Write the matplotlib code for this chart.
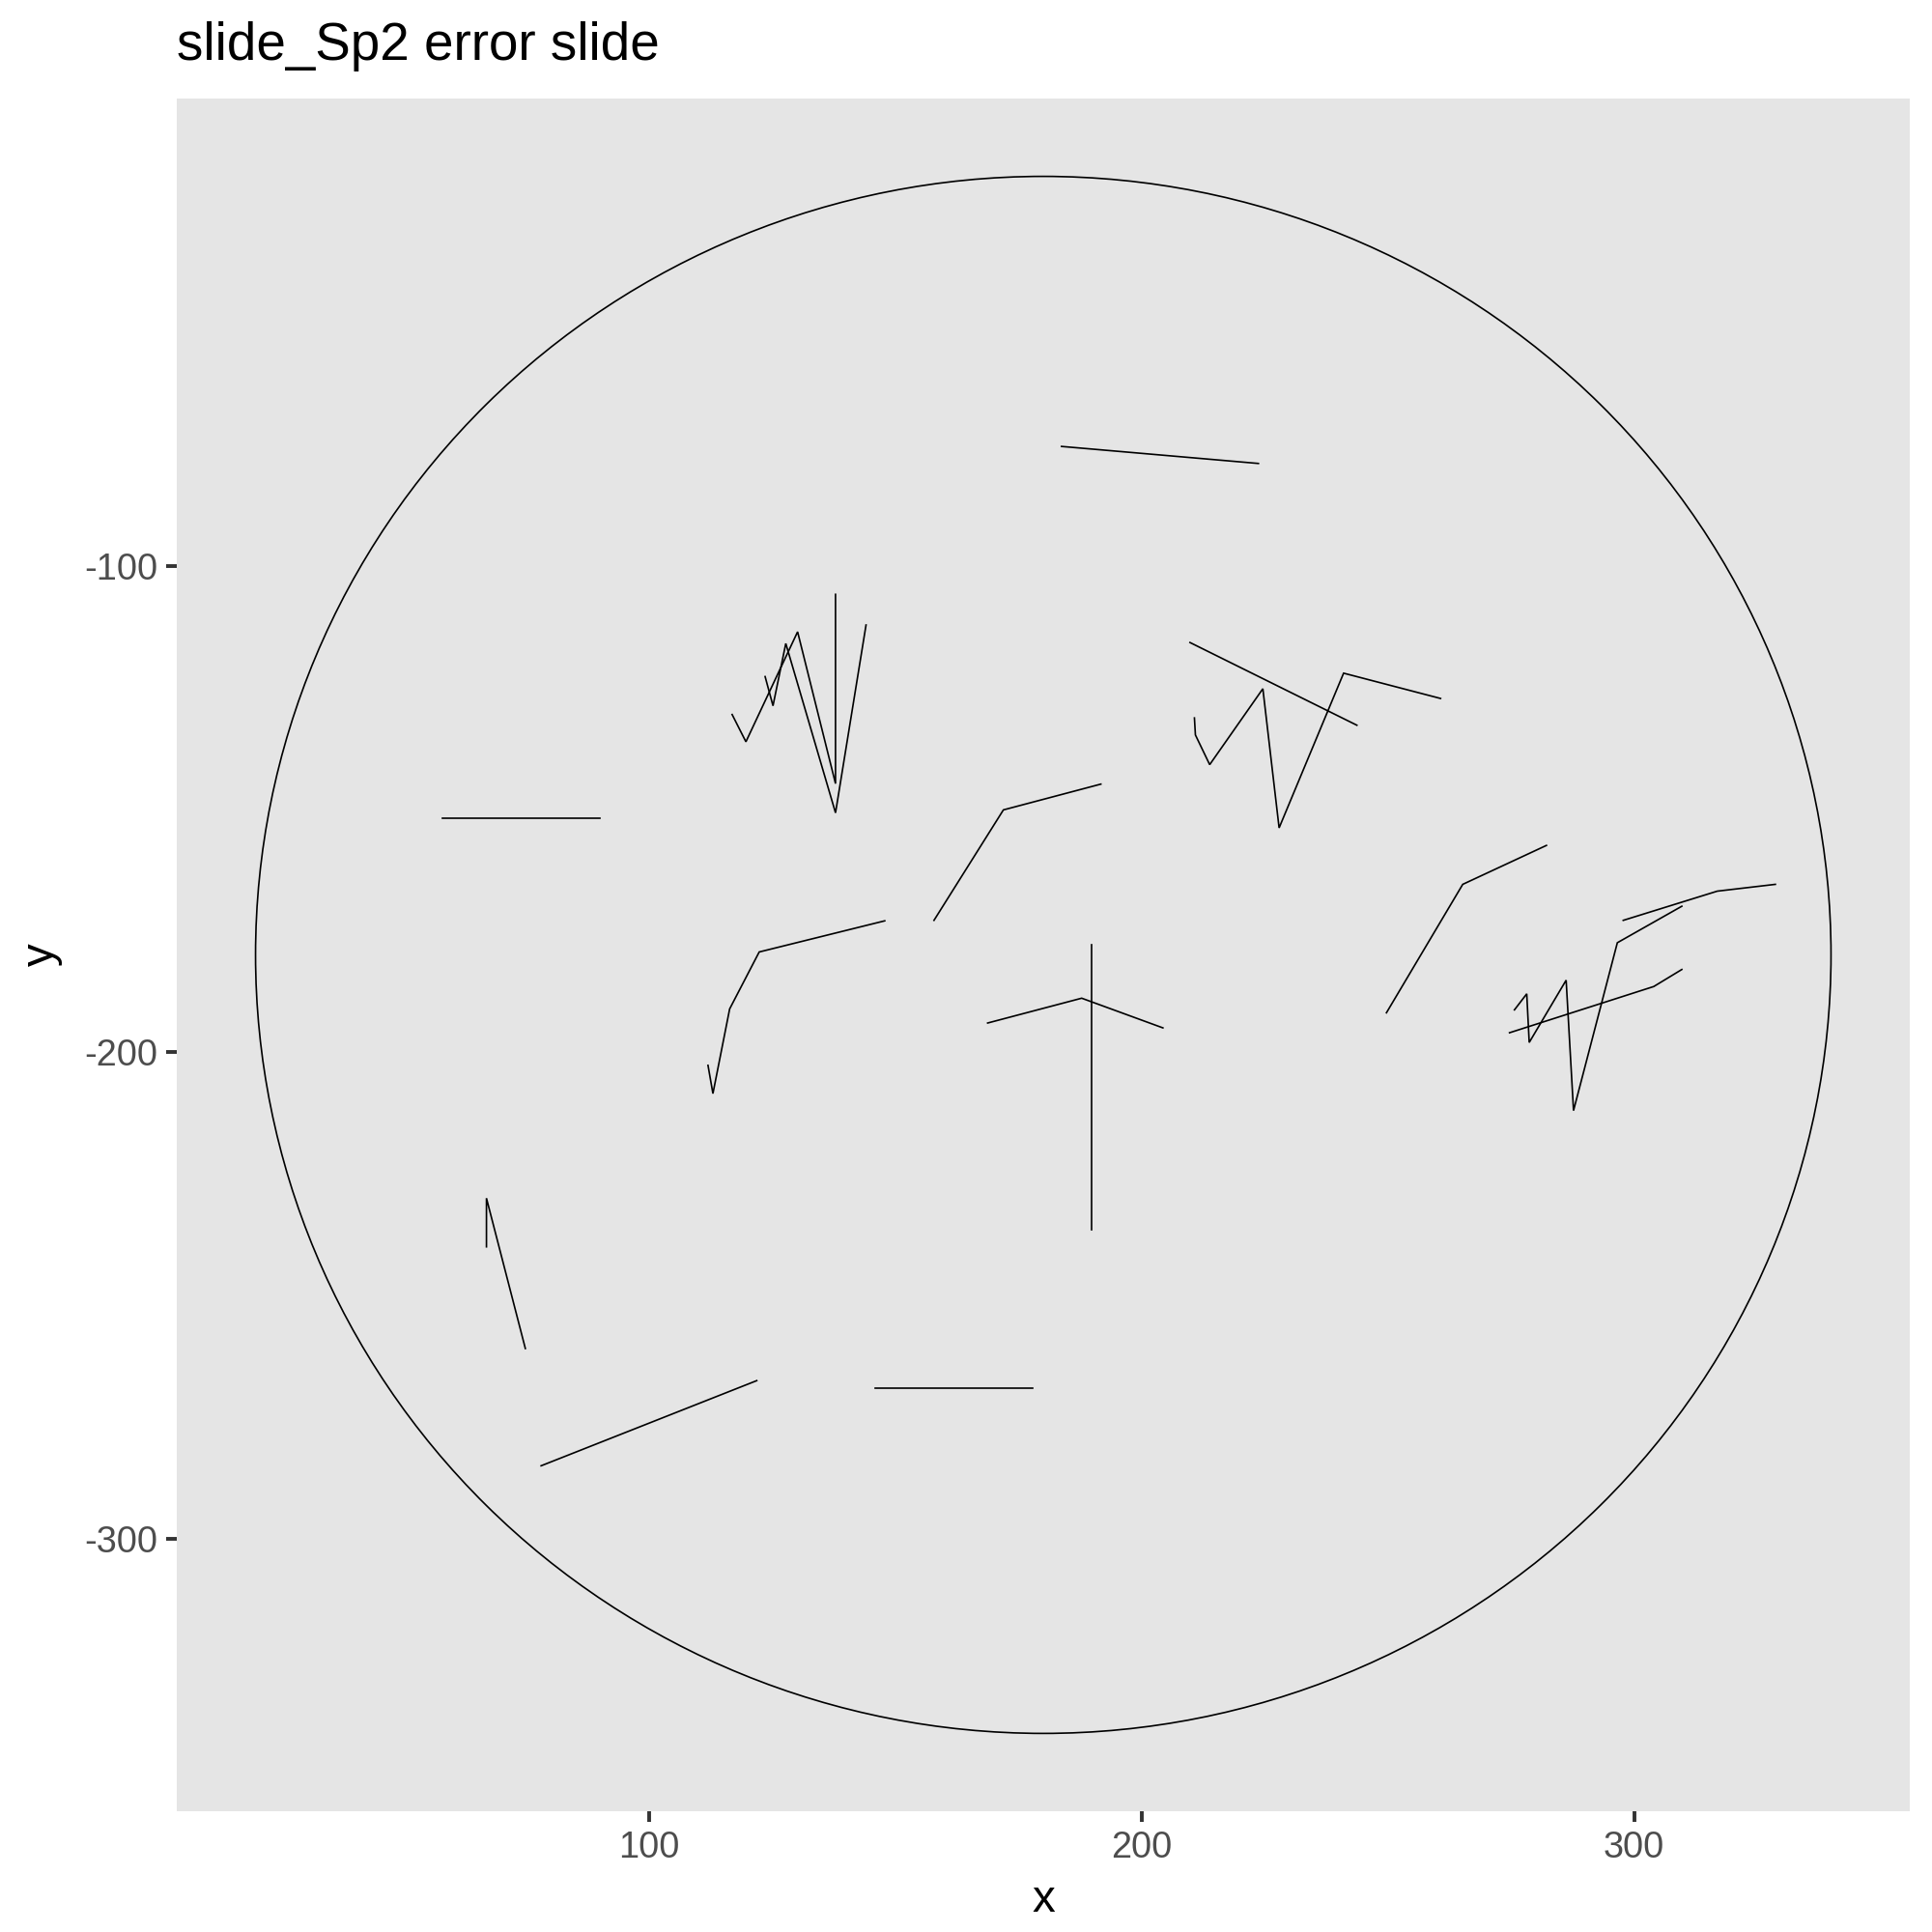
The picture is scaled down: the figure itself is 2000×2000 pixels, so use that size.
import matplotlib
matplotlib.use("Agg")
import matplotlib.pyplot as plt
from matplotlib.patches import Circle

plt.rcParams['font.family'] = ['Liberation Sans', 'DejaVu Sans']

# ---- data ----
title = "slide_Sp2 error slide"
circle_center = (180, -180)
circle_radius = 160

track_id = [1, 1,
            2, 2,
            3, 3, 3, 3, 3,
            4, 4, 4, 4, 4,
            5, 5, 5,
            6, 6, 6, 6, 6,
            7, 7, 7,
            8, 8,
            9, 9, 9, 9, 9, 9, 9,
            10, 10,
            11, 11, 11,
            12, 12, 12, 12, 12, 12, 12,
            13, 13, 13,
            14, 14, 14,
            15, 15, 15,
            16, 16,
            17, 17]
track_x = [183.7, 223.7,
           57.9, 89.9,
           116.8, 119.6, 130.1, 137.8, 137.8,
           123.5, 125.1, 127.7, 137.8, 144.0,
           157.8, 171.9, 191.7,
           111.9, 112.9, 116.3, 122.3, 147.8,
           168.7, 187.8, 204.3,
           189.8, 189.8,
           210.7, 210.9, 213.8, 224.6, 227.9, 241.0, 260.7,
           209.8, 243.7,
           249.7, 265.2, 282.2,
           275.7, 278.2, 278.7, 286.2, 287.7, 296.6, 309.7,
           274.7, 304.0, 309.7,
           297.8, 316.9, 328.7,
           66.9, 66.9, 74.8,
           78.0, 121.8,
           145.9, 177.8]
track_y = [-75.5, -79.0,
           -151.9, -151.9,
           -130.6, -136.2, -113.6, -144.8, -105.9,
           -122.8, -128.8, -116.0, -150.8, -112.2,
           -172.9, -150.2, -144.9,
           -202.7, -208.5, -191.1, -179.4, -173.0,
           -194.0, -188.9, -195.0,
           -177.9, -236.5,
           -131.3, -134.8, -140.9, -125.3, -153.9, -122.1, -127.3,
           -115.8, -132.8,
           -191.9, -165.5, -157.5,
           -191.3, -188.0, -198.0, -185.2, -212.0, -177.5, -170.0,
           -196.0, -186.5, -183.0,
           -172.9, -166.9, -165.5,
           -240.0, -230.0, -260.9,
           -285.0, -267.5,
           -269.0, -269.0]
x_ticks = [100, 200, 300]
y_ticks = [-100, -200, -300]

# ---- figure ----
fig = plt.figure(figsize=(10, 10), dpi=200)
ax = fig.add_axes([0.0915, 0.0625, 0.897, 0.8865])
ax.set_facecolor('#E5E5E5')

# draw paths grouped by track id
ids = []
for t in track_id:
    if t not in ids:
        ids.append(t)
for t in ids:
    xs = [x for x, i in zip(track_x, track_id) if i == t]
    ys = [y for y, i in zip(track_y, track_id) if i == t]
    ax.plot(xs, ys, color='black', lw=0.6, solid_joinstyle='miter')

ax.add_patch(Circle(circle_center, circle_radius, fill=False,
                    edgecolor='black', lw=0.6))

ax.set_xlim(4, 356)
ax.set_ylim(-356, -4)
ax.set_xticks(x_ticks)
ax.set_yticks(y_ticks)
ax.set_xticklabels([str(v) for v in x_ticks])
ax.set_yticklabels([str(v) for v in y_ticks])
for s in ax.spines.values():
    s.set_visible(False)
ax.tick_params(axis='both', length=3.96, width=1.4, color='#333333',
               labelsize=13.7, labelcolor='#4D4D4D', pad=3.2)

ax.set_xlabel('x', fontsize=17.1, color='black', labelpad=5)
ax.set_ylabel('y', fontsize=17.1, color='black', labelpad=8)
ax.set_title(title, fontsize=19.7, color='black', loc='left', pad=14.5)

fig.savefig('out.png', dpi=200)
